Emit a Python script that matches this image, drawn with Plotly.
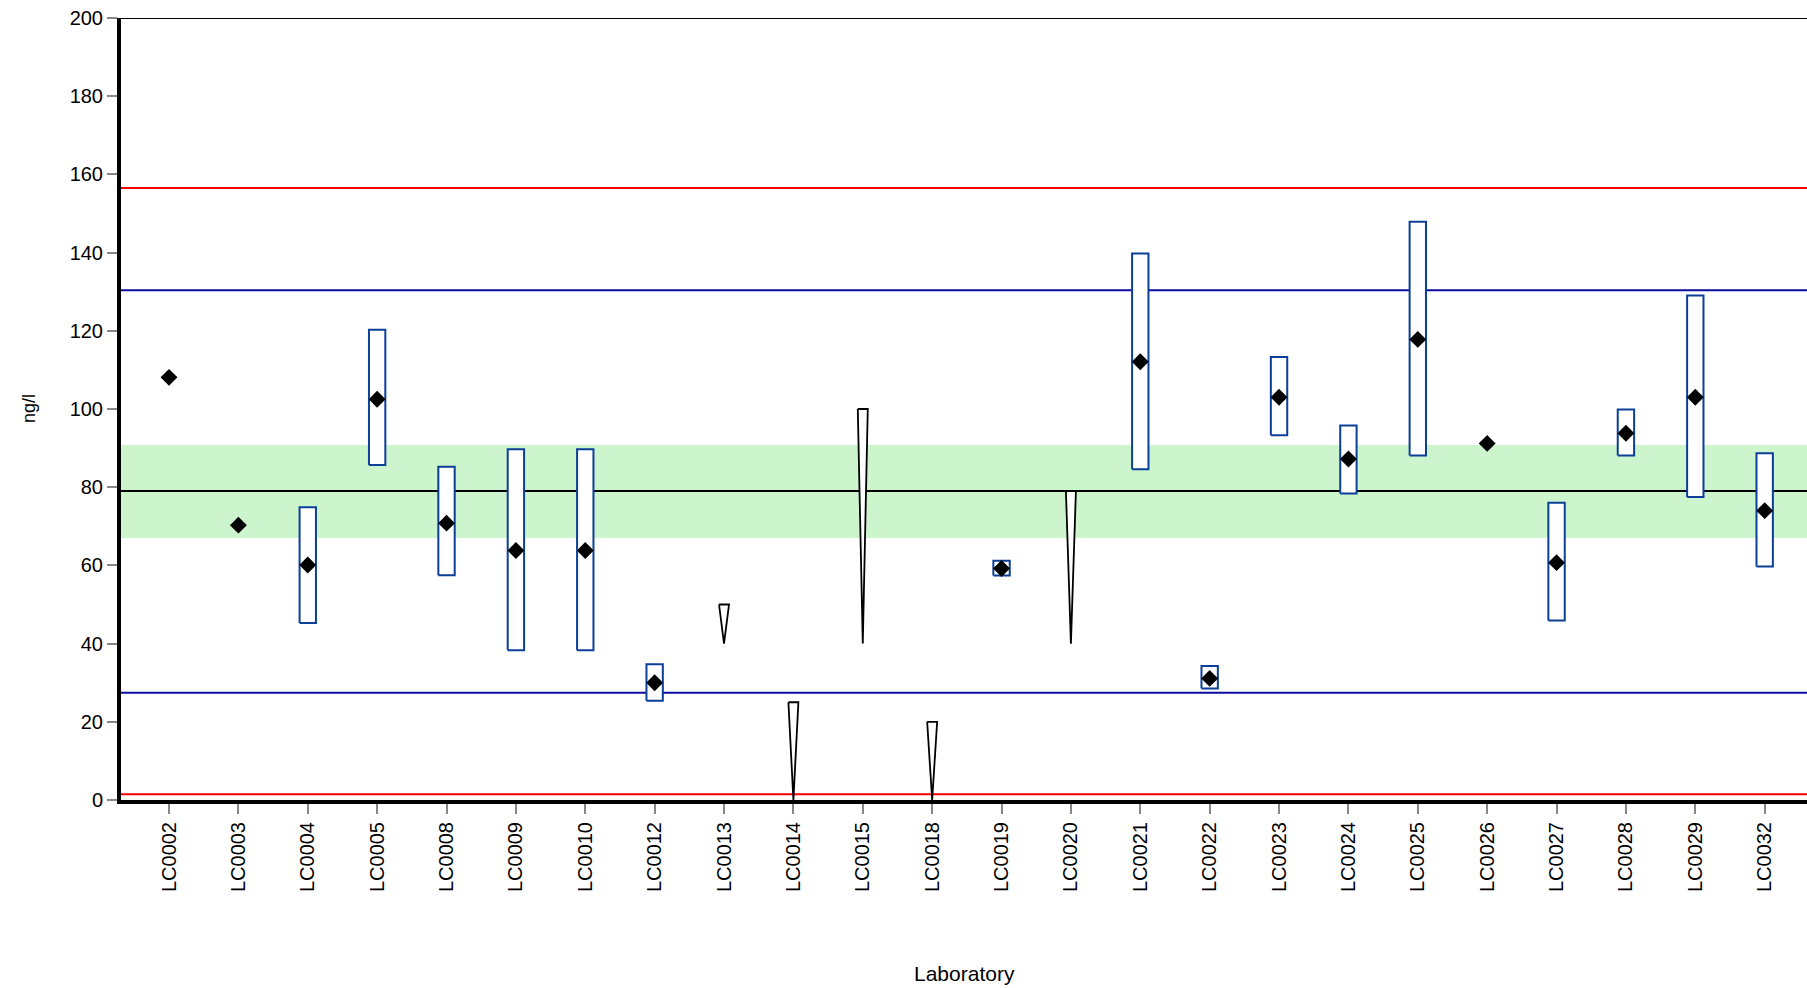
import plotly.graph_objects as go

# Laboratory results (ng/l)
labs = ["LC0002", "LC0003", "LC0004", "LC0005", "LC0008", "LC0009", "LC0010",
        "LC0012", "LC0013", "LC0014", "LC0015", "LC0018", "LC0019", "LC0020",
        "LC0021", "LC0022", "LC0023", "LC0024", "LC0025", "LC0026", "LC0027",
        "LC0028", "LC0029", "LC0032"]

# Reported values with expanded uncertainty interval (None = not applicable)
result = [108.1, 70.3, 60.1, 102.5, 70.8, 63.8, 63.8, 30.0, None, None, None, None,
          59.2, None, 112.1, 31.1, 103.0, 87.2, 117.8, 91.2, 60.7, 93.8, 103.0, 74.0]
unc_low = [None, None, 45.3, 85.7, 57.5, 38.3, 38.3, 25.4, None, None, None, None,
           57.4, None, 84.6, 28.5, 93.3, 78.4, 88.1, None, 45.9, 88.1, 77.5, 59.7]
unc_high = [None, None, 74.9, 120.3, 85.2, 89.7, 89.7, 34.7, None, None, None, None,
            61.2, None, 139.8, 34.3, 113.3, 95.8, 147.9, None, 76.0, 99.9, 129.0, 88.7]

# "Less than" results: reporting limit (top) and lower end of the range
lt_labs = ["LC0013", "LC0014", "LC0015", "LC0018", "LC0020"]
lt_top = [50, 25, 100, 20, 79]
lt_bottom = [40, 0, 40, 0, 40]

# Assessment limits
assigned = 79.0
accept_low, accept_high = 67.0, 90.8
warn_low, warn_high = 27.4, 130.4
action_low, action_high = 1.5, 156.5

y_ticks = [0, 20, 40, 60, 80, 100, 120, 140, 160, 180, 200]

BOX_HALF = 0.118
TRI_HALF = 0.072
BOX_COLOR = "#0b3f98"
LIMIT_BLUE = "#0c0c9e"

pos = {lab: i for i, lab in enumerate(labs)}

fig = go.Figure()

# Uncertainty boxes
for lab, lo, hi in zip(labs, unc_low, unc_high):
    if lo is None:
        continue
    i = pos[lab]
    fig.add_trace(go.Scatter(
        x=[i - BOX_HALF, i + BOX_HALF, i + BOX_HALF, i - BOX_HALF, i - BOX_HALF],
        y=[lo, lo, hi, hi, lo],
        mode="lines", fill="toself", fillcolor="white",
        line=dict(color=BOX_COLOR, width=2), hoverinfo="skip", showlegend=False))

# "Less than" wedges
for lab, top, bot in zip(lt_labs, lt_top, lt_bottom):
    i = pos[lab]
    fig.add_trace(go.Scatter(
        x=[i - TRI_HALF, i + TRI_HALF, i, i - TRI_HALF],
        y=[top, top, bot, top],
        mode="lines", fill="toself", fillcolor="white",
        line=dict(color="black", width=1.8), hoverinfo="skip", showlegend=False))

# Reported results
xs = [pos[l] for l, v in zip(labs, result) if v is not None]
ys = [v for v in result if v is not None]
fig.add_trace(go.Scatter(
    x=xs, y=ys, mode="markers",
    marker=dict(symbol="diamond", size=13, color="black", line=dict(width=0)),
    hoverinfo="skip", showlegend=False))

shapes = [
    dict(type="rect", xref="paper", yref="y", x0=0, x1=1, y0=accept_low, y1=accept_high,
         fillcolor="#cdf5cd", line=dict(width=0), layer="below"),
    dict(type="line", xref="paper", yref="y", x0=0, x1=1, y0=assigned, y1=assigned,
         line=dict(color="black", width=2), layer="below"),
    dict(type="line", xref="paper", yref="y", x0=0, x1=1, y0=warn_low, y1=warn_low,
         line=dict(color=LIMIT_BLUE, width=2), layer="below"),
    dict(type="line", xref="paper", yref="y", x0=0, x1=1, y0=warn_high, y1=warn_high,
         line=dict(color=LIMIT_BLUE, width=2), layer="below"),
    dict(type="line", xref="paper", yref="y", x0=0, x1=1, y0=action_low, y1=action_low,
         line=dict(color="#ff0000", width=2), layer="below"),
    dict(type="line", xref="paper", yref="y", x0=0, x1=1, y0=action_high, y1=action_high,
         line=dict(color="#ff0000", width=2), layer="below"),
    dict(type="line", xref="paper", yref="y", x0=0, x1=1, y0=200, y1=200,
         line=dict(color="black", width=2)),
]

font = "Liberation Sans, Arial, sans-serif"

fig.update_layout(
    width=1807, height=988,
    margin=dict(l=121, r=0, t=18, b=188),
    paper_bgcolor="white", plot_bgcolor="white",
    font=dict(family=font, size=20, color="black"),
    shapes=shapes,
    showlegend=False,
    xaxis=dict(
        range=[-0.692, 23.61],
        tickmode="array", tickvals=list(range(len(labs))), ticktext=labs,
        tickangle=-90, ticks="outside", ticklen=10, tickwidth=2, tickcolor="#888888",
        showline=True, linecolor="black", linewidth=4,
        showgrid=False, zeroline=False,
        tickfont=dict(family=font, size=20, color="black"),
    ),
    yaxis=dict(
        range=[0, 200],
        tickmode="array", tickvals=y_ticks,
        ticks="outside", ticklen=10, tickwidth=2, tickcolor="#888888",
        showline=True, linecolor="black", linewidth=4,
        showgrid=False, zeroline=False,
        tickfont=dict(family=font, size=20, color="black"),
    ),
    annotations=[
        dict(text="ng/l", xref="paper", yref="paper", x=-0.0545, y=0.5,
             textangle=-90, showarrow=False, font=dict(family=font, size=18),
             xanchor="center", yanchor="middle"),
        dict(text="Laboratory", xref="paper", yref="paper", x=0.5, y=-0.222,
             showarrow=False, font=dict(family=font, size=21),
             xanchor="center", yanchor="middle"),
    ],
)

fig.write_html("out.html", config={"displayModeBar": False})
